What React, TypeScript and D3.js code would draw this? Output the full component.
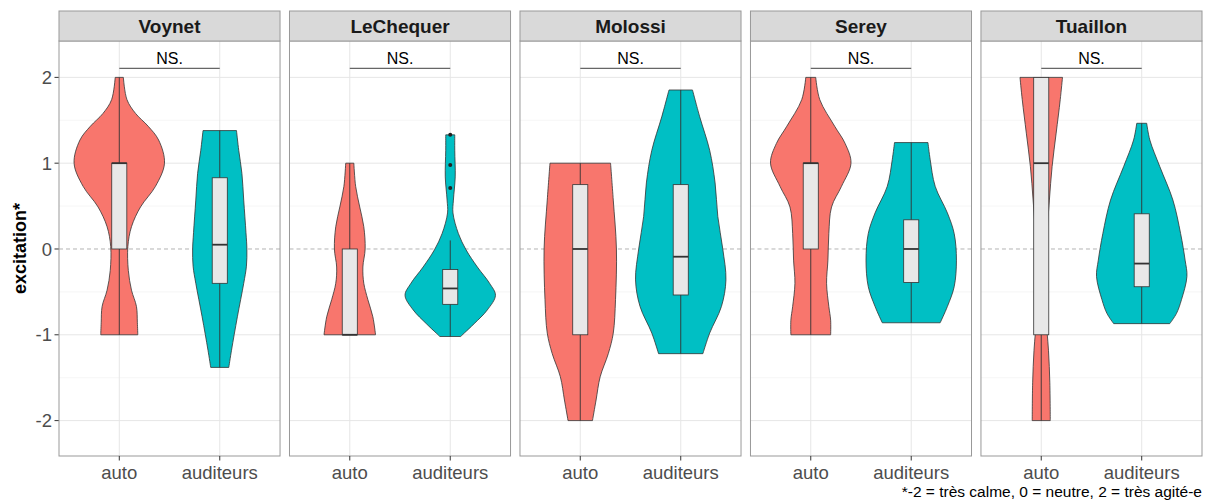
import React from 'react';
import * as d3 from 'd3';

const panels = ['Voynet', 'LeChequer', 'Molossi', 'Serey', 'Tuaillon'];
const groups = ['auto', 'auditeurs'];
const groupColors = ['#F8766D', '#00BFC4'];
const yTicks = [-2, -1, 0, 1, 2];
const yMinor = [-1.5, -0.5, 0.5, 1.5];
const sigLabels = ['NS.', 'NS.', 'NS.', 'NS.', 'NS.'];
const sigLevel = 2.106;
const yTitle = 'excitation*';
const caption = '*-2 = très calme, 0 = neutre, 2 = très agité-e';

// density profiles: [value, relative density width (panel max = 1)]
const voynetAuto: [number, number][] = [[2, 0.09], [1.74, 0.17], [1.58, 0.36], [1.43, 0.64], [1.27, 0.87], [1.0, 1.0], [0.73, 0.8], [0.49, 0.47], [0.26, 0.27], [0.03, 0.19], [-0.25, 0.2], [-0.48, 0.27], [-0.67, 0.38], [-0.86, 0.4], [-1, 0.41]];
const voynetAud: [number, number][] = [[1.38, 0.37], [1.15, 0.42], [0.88, 0.49], [0.57, 0.53], [0.19, 0.58], [0, 0.6], [-0.2, 0.59], [-0.4, 0.53], [-0.79, 0.39], [-1.18, 0.26], [-1.38, 0.2]];
const lechequerAuto: [number, number][] = [[1.0, 0.09], [0.73, 0.13], [0.49, 0.22], [0.26, 0.31], [0, 0.34], [-0.21, 0.29], [-0.4, 0.31], [-0.59, 0.4], [-0.79, 0.51], [-1.0, 0.57]];
const lechequerAud: [number, number][] = [[1.33, 0.1], [1.15, 0.1], [0.84, 0.11], [0.57, 0.07], [0.42, 0.06], [0.18, 0.18], [-0.01, 0.35], [-0.21, 0.6], [-0.4, 0.87], [-0.54, 1.0], [-0.71, 0.82], [-0.87, 0.53], [-0.98, 0.31], [-1.02, 0.23]];
const molossiAuto: [number, number][] = [[1.0, 0.67], [0.57, 0.73], [0, 0.8], [-0.59, 0.78], [-0.98, 0.73], [-1.22, 0.62], [-1.49, 0.44], [-1.76, 0.35], [-2.0, 0.27]];
const molossiAud: [number, number][] = [[1.853, 0.26], [1.54, 0.42], [1.15, 0.64], [0.77, 0.76], [0.38, 0.82], [0, 0.93], [-0.36, 1.0], [-0.67, 0.9], [-0.98, 0.64], [-1.22, 0.49]];
const sereyAuto: [number, number][] = [[2, 0.11], [1.74, 0.2], [1.43, 0.53], [1.23, 0.76], [1.0, 0.89], [0.73, 0.68], [0.49, 0.46], [0.18, 0.4], [-0.13, 0.38], [-0.4, 0.35], [-0.67, 0.4], [-0.83, 0.44], [-1.0, 0.44]];
const sereyAud: [number, number][] = [[1.24, 0.37], [1.04, 0.42], [0.73, 0.53], [0.42, 0.8], [0.18, 0.95], [-0.13, 1.0], [-0.44, 0.95], [-0.67, 0.8], [-0.86, 0.64]];
const tuaillonAuto: [number, number][] = [[2, 0.47], [1.74, 0.42], [1.35, 0.33], [0.96, 0.24], [0.57, 0.18], [0.19, 0.13], [-0.21, 0.1], [-0.48, 0.06], [-0.79, 0.1], [-1.18, 0.16], [-1.56, 0.19], [-2, 0.2]];
const tuaillonAud: [number, number][] = [[1.465, 0.11], [1.27, 0.18], [0.96, 0.4], [0.57, 0.69], [0.18, 0.86], [-0.13, 0.96], [-0.32, 1.0], [-0.59, 0.88], [-0.75, 0.77], [-0.87, 0.62]];

// box stats: [lower whisker, q1, median, q3, upper whisker]
const voynetBox = [[-1, 0, 1, 1, 2], [-1.38, -0.40, 0.05, 0.83, 1.38]];
const lechequerBox = [[-1, -1, -1, 0, 1], [-1.02, -0.645, -0.46, -0.24, 0.10]];
const molossiBox = [[-2, -1, 0, 0.75, 1], [-1.22, -0.536, -0.09, 0.75, 1.853]];
const sereyBox = [[-1, 0, 1, 1, 2], [-0.86, -0.39, 0, 0.34, 1.24]];
const tuaillonBox = [[-2, -1, 1, 2, 2], [-0.87, -0.44, -0.17, 0.41, 1.465]];

const lechequerOutliers = [0.71, 0.98, 1.33];

const violinData = [
  [voynetAuto, voynetAud],
  [lechequerAuto, lechequerAud],
  [molossiAuto, molossiAud],
  [sereyAuto, sereyAud],
  [tuaillonAuto, tuaillonAud],
];
const boxData = [voynetBox, lechequerBox, molossiBox, sereyBox, tuaillonBox];
const outlierData: number[][][] = [[[], []], [[], lechequerOutliers], [[], []], [[], []], [[], []]];

const W = 1208;
const H = 501;
const font = "'Liberation Sans', Arial, Helvetica, sans-serif";

export default function App() {
  const plotLeft = 59;
  const plotRight = 1202;
  const panelTop = 41;
  const panelBottom = 456;
  const stripTop = 11;

  const y = d3.scaleLinear().domain([-2.4126, 2.424]).range([panelBottom, panelTop]);
  const px = d3.scaleBand<string>().domain(panels).range([plotLeft, plotRight]).paddingInner(0.041).paddingOuter(0);

  return (
    <svg width={W} height={H} style={{ position: 'absolute', left: 0, top: 0, background: '#fff' }} fontFamily={font}>
      <rect x={0} y={0} width={W} height={H} fill="#fff" />
      {/* y axis */}
      {yTicks.map((t) => (
        <g key={'yt' + t}>
          <line x1={plotLeft - 4.5} x2={plotLeft} y1={y(t)} y2={y(t)} stroke="#333" strokeWidth={1} />
          <text x={plotLeft - 7} y={y(t)} dy="0.36em" textAnchor="end" fontSize={18.5} fill="#4d4d4d">{t}</text>
        </g>
      ))}
      <text transform={`translate(${20},${(panelTop + panelBottom) / 2}) rotate(-90)`} textAnchor="middle" dy="0.35em" fontSize={18} fontWeight="bold" fill="#000">{yTitle}</text>

      {panels.map((p, pi) => {
        const x0 = px(p)!;
        const bw = px.bandwidth();
        const xs = d3.scalePoint<string>().domain(groups).range([x0, x0 + bw]).padding(0.6);
        const step = xs.step();
        const maxHalf = 0.45 * step;
        const boxHalf = 0.075 * step;
        return (
          <g key={p}>
            {/* panel background & grid */}
            <rect x={x0} y={panelTop} width={bw} height={panelBottom - panelTop} fill="#fff" />
            {yMinor.map((t) => (
              <line key={'mn' + t} x1={x0} x2={x0 + bw} y1={y(t)} y2={y(t)} stroke="#f2f2f2" strokeWidth={0.7} />
            ))}
            {yTicks.filter((t) => t !== 0).map((t) => (
              <line key={'mj' + t} x1={x0} x2={x0 + bw} y1={y(t)} y2={y(t)} stroke="#e6e6e6" strokeWidth={1} />
            ))}
            {groups.map((g) => (
              <line key={'vg' + g} x1={xs(g)} x2={xs(g)} y1={panelTop} y2={panelBottom} stroke="#e6e6e6" strokeWidth={1} />
            ))}
            <line x1={x0} x2={x0 + bw} y1={y(0)} y2={y(0)} stroke="#b3b3b3" strokeWidth={1} strokeDasharray="4,3" />

            {/* violins */}
            {groups.map((g, gi) => {
              const cx = xs(g)!;
              const area = d3.area<[number, number]>()
                .y((d) => y(d[0]))
                .x0((d) => cx - d[1] * maxHalf)
                .x1((d) => cx + d[1] * maxHalf)
                .curve(d3.curveCatmullRom.alpha(0.5));
              const b = boxData[pi][gi];
              return (
                <g key={'v' + g}>
                  <path d={area(violinData[pi][gi]) || ''} fill={groupColors[gi]} stroke="#333" strokeWidth={0.8} />
                  <line x1={cx} x2={cx} y1={y(b[0])} y2={y(b[4])} stroke="#333" strokeWidth={0.9} />
                  <rect x={cx - boxHalf} y={y(b[3])} width={2 * boxHalf} height={Math.max(0.5, y(b[1]) - y(b[3]))} fill="#e8e8e8" stroke="#333" strokeWidth={0.8} />
                  <line x1={cx - boxHalf} x2={cx + boxHalf} y1={y(b[2])} y2={y(b[2])} stroke="#333" strokeWidth={1.8} />
                  {outlierData[pi][gi].map((o, oi) => (
                    <circle key={oi} cx={cx} cy={y(o)} r={2} fill="#222" />
                  ))}
                </g>
              );
            })}

            {/* significance bracket */}
            <line x1={xs(groups[0])} x2={xs(groups[1])} y1={y(sigLevel)} y2={y(sigLevel)} stroke="#666" strokeWidth={1.2} />
            <text x={(xs(groups[0])! + xs(groups[1])!) / 2} y={y(sigLevel) - 4} textAnchor="middle" fontSize={16} fill="#000">{sigLabels[pi]}</text>

            {/* panel border */}
            <rect x={x0} y={panelTop} width={bw} height={panelBottom - panelTop} fill="none" stroke="#999" strokeWidth={1} />

            {/* strip */}
            <rect x={x0} y={stripTop} width={bw} height={panelTop - stripTop} fill="#d9d9d9" stroke="#999" strokeWidth={1} />
            <text x={x0 + bw / 2} y={(stripTop + panelTop) / 2} dy="0.36em" textAnchor="middle" fontSize={19} fontWeight="bold" fill="#1a1a1a">{p}</text>

            {/* x axis */}
            {groups.map((g) => (
              <g key={'xt' + g}>
                <line x1={xs(g)} x2={xs(g)} y1={panelBottom} y2={panelBottom + 4.5} stroke="#333" strokeWidth={1} />
                <text x={xs(g)} y={panelBottom + 23} textAnchor="middle" fontSize={18.5} fill="#4d4d4d">{g}</text>
              </g>
            ))}
          </g>
        );
      })}

      <text x={plotRight} y={497} textAnchor="end" fontSize={15.5} fill="#000">{caption}</text>
    </svg>
  );
}
